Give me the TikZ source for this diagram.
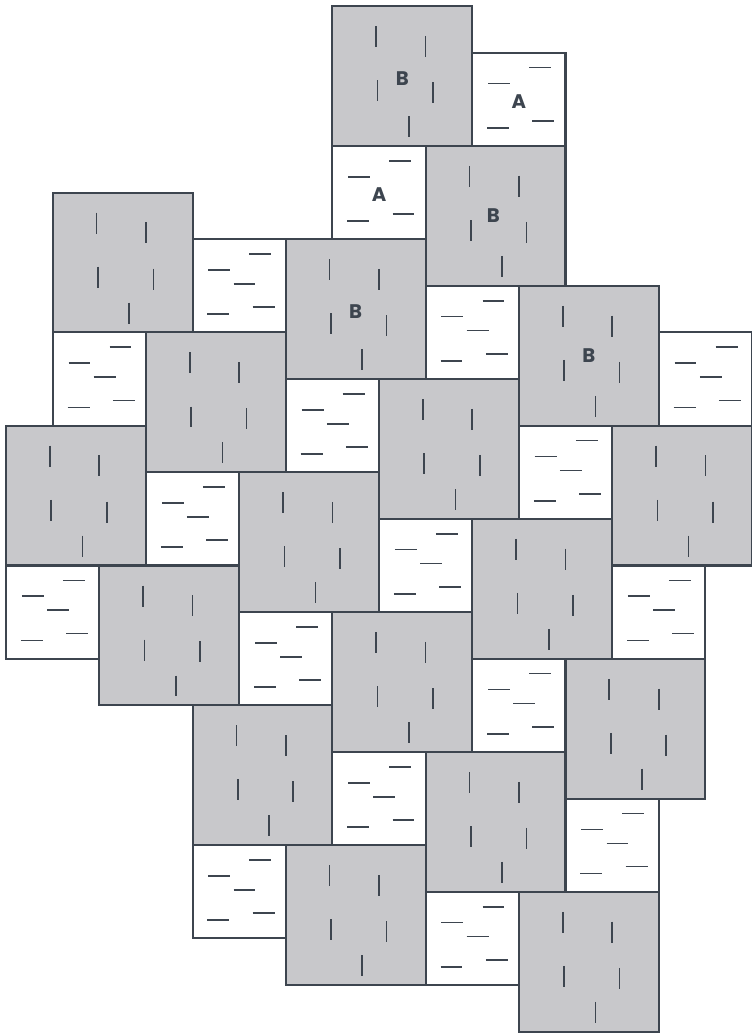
\documentclass[tikz,border=0pt]{standalone}
\usepackage{fontspec}
\newfontfamily\tilefont{Poppins}
\definecolor{edge}{HTML}{3D454F}
\definecolor{slab}{HTML}{C8C8CB}

\begin{document}
\begin{tikzpicture}[x=1cm,y=-1cm,
 big/.style={draw=edge,fill=slab,line width=1.25pt},
 small/.style={draw=edge,fill=white,line width=1.25pt},
 grain/.style={draw=edge,line width=1pt},
 tag/.style={font=\tilefont\bfseries\fontsize{12}{14}\selectfont,text=edge},
 bigslab/.pic={\draw[big] (0,0) rectangle (3,3);
   \foreach \gx/\gy in {0.94/0.43,2.00/0.64,0.97/1.59,2.16/1.63,1.64/2.36}
     \draw[grain] (\gx,\gy) -- ++(0,0.45);},
 smallslab/.pic={\draw[small] (0,0) rectangle (2,2);
   \foreach \gx/\gy in {1.22/0.32,0.34/0.66,1.29/1.46,0.32/1.61}
     \draw[grain] (\gx,\gy) -- ++(0.47,0);}]
\useasboundingbox (-0.13,-0.13) rectangle (16.0,22.05);
% large slabs
\foreach \c/\r in {7/0,9/3,6/5,1/4,11/6,3/7,8/8,0/9,13/9,5/10,10/11,2/12,7/13,12/14,4/15,9/16,6/18,11/19}
  \pic at (\c,\r) {bigslab};
% small slabs
\foreach \c/\r in {10/1,7/3,9/6,4/5,14/7,6/8,11/9,3/10,8/11,13/12,5/13,10/14,7/16,12/17,9/19,1/7,0/12,4/18}
  \pic at (\c,\r) {smallslab};
% middle dash of the unlabelled small slabs
\foreach \c/\r in {9/6,4/5,14/7,6/8,11/9,3/10,8/11,13/12,5/13,10/14,7/16,12/17,9/19,1/7,0/12,4/18}
  \draw[grain] (\c+0.88,\r+0.96) -- ++(0.47,0);
% labels
\node[tag] (b1) at (8.5,1.55) {B};
\node[tag] (b2) at (10.45,4.5) {B};
\node[tag] (b3) at (7.5,6.55) {B};
\node[tag] (b4) at (12.5,7.5) {B};
\node[tag] (a1) at (11.0,2.05) {A};
\node[tag] (a2) at (8.0,4.05) {A};
\end{tikzpicture}
\end{document}
